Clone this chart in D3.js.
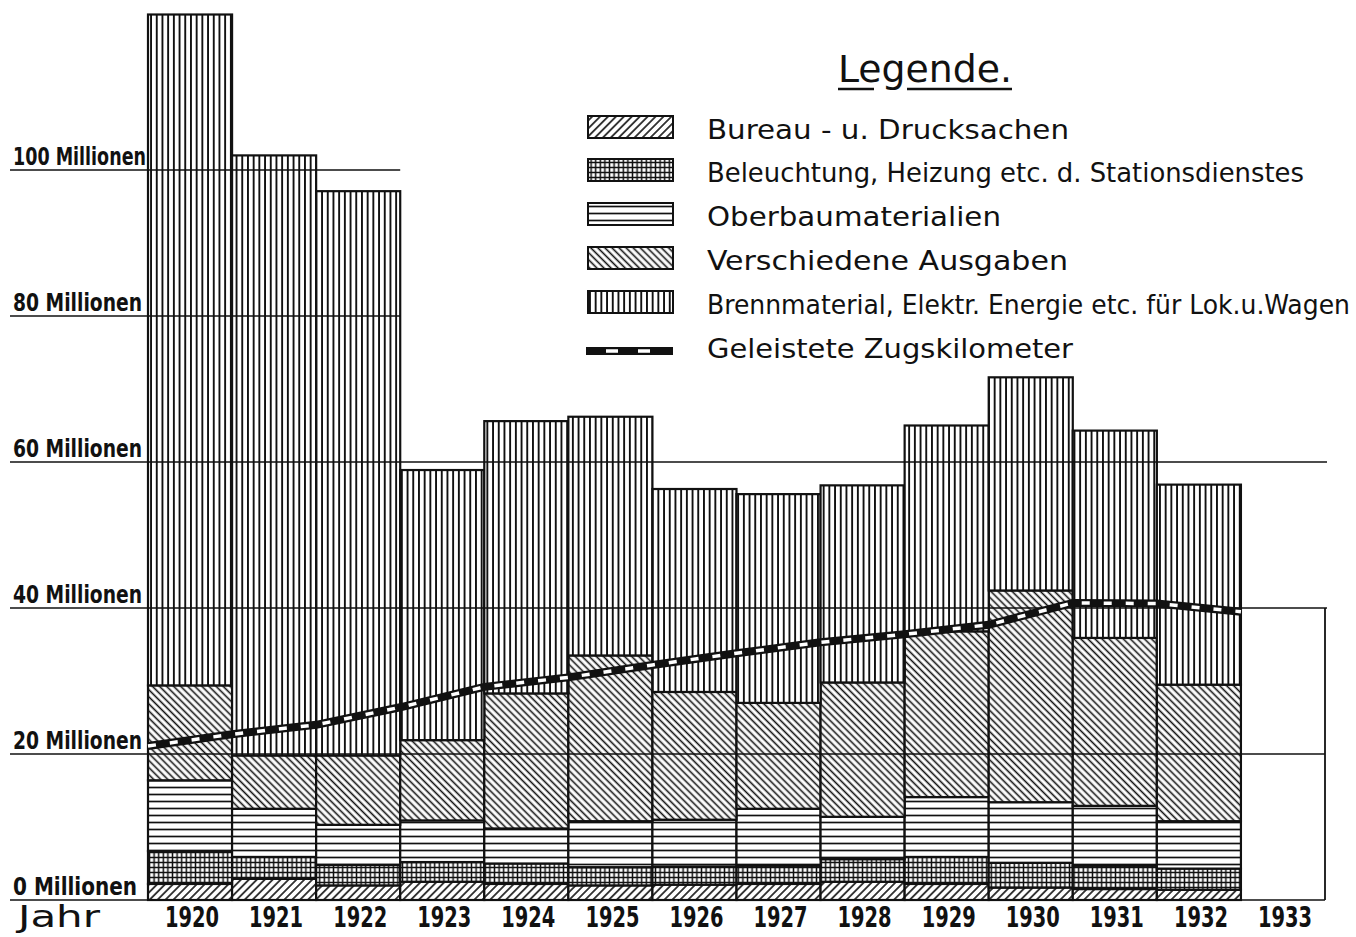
<!DOCTYPE html>
<html>
<head>
<meta charset="utf-8">
<script src="https://cdn.jsdelivr.net/npm/d3@7"></script>
<style>
	body { margin: 0; background: #fff; }
	text { fill: #111; }
</style>
</head>
<body>
<div id="graph"></div>
<script>
// years on the axis (1933 has no bar, only a label and the end of the line)
const years = ["1920", "1921", "1922", "1923", "1924", "1925", "1926", "1927", "1928", "1929", "1930", "1931", "1932", "1933"];
const barYears = years.slice(0, 13);

// millions, bottom to top of each bar
const bureau = [2.2, 2.9, 2.0, 2.5, 2.2, 2.0, 2.1, 2.2, 2.5, 2.2, 1.7, 1.5, 1.4];
const beleuchtung = [4.5, 3.0, 2.8, 2.7, 2.8, 2.5, 2.5, 2.5, 3.1, 3.7, 3.4, 3.2, 2.9];
const oberbau = [9.7, 6.6, 5.5, 5.7, 4.8, 6.3, 6.4, 7.8, 5.8, 8.2, 8.3, 8.2, 6.5];
const verschiedene = [13.0, 7.3, 9.5, 11.0, 18.5, 22.7, 17.5, 14.5, 18.4, 22.7, 29.0, 23.0, 18.7];
const brenn = [91.9, 82.2, 77.3, 37.0, 37.3, 32.7, 27.8, 28.6, 27.0, 28.2, 29.2, 28.4, 27.4];

// Zugskilometer, plotted at the start of each year 1920..1933
const zugkm = [21.1, 22.7, 24.0, 26.4, 29.2, 30.5, 32.2, 33.8, 35.3, 36.4, 37.7, 40.7, 40.6, 39.5];

const ticks = [0, 20, 40, 60, 80, 100];
const keys = ["bureau", "beleuchtung", "oberbau", "verschiedene", "brenn"];
const legendLabels = [
	"Bureau - u. Drucksachen",
	"Beleuchtung, Heizung etc. d. Stationsdienstes",
	"Oberbaumaterialien",
	"Verschiedene Ausgaben",
	"Brennmaterial, Elektr. Energie etc. für Lok.u.Wagen",
	"Geleistete Zugskilometer",
];

const width = 1356;
const height = 937;
const font = "'DejaVu Sans Condensed', 'Liberation Sans Narrow', 'DejaVu Sans', sans-serif";

const table = barYears.map((yr, i) => ({
	year: yr,
	bureau: bureau[i],
	beleuchtung: beleuchtung[i],
	oberbau: oberbau[i],
	verschiedene: verschiedene[i],
	brenn: brenn[i],
}));

const x = d3.scaleBand(years, [148, 1325]).padding(0);
const y = d3.scaleLinear([0, 100], [900, 170]);

const svg = d3
	.select("#graph")
	.append("svg")
	.attr("width", width)
	.attr("height", height)
	.attr("viewBox", [0, 0, width, height]);

// hatch patterns
const defs = svg.append("defs");
function linePattern(id, size, angle, sw) {
	const p = defs
		.append("pattern")
		.attr("id", id)
		.attr("patternUnits", "userSpaceOnUse")
		.attr("width", size)
		.attr("height", size)
		.attr("patternTransform", `rotate(${angle})`);
	p.append("rect").attr("width", size).attr("height", size).attr("fill", "#fff");
	p.append("line")
		.attr("x1", size / 2).attr("x2", size / 2)
		.attr("y1", 0).attr("y2", size)
		.attr("stroke", "#111")
		.attr("stroke-width", sw);
}
linePattern("bureau", 5.6, 45, 1.6);
linePattern("verschiedene", 5, -45, 1.6);
linePattern("oberbau", 7, 90, 1.7);
linePattern("brenn", 5.7, 0, 1.9);
{
	const p = defs
		.append("pattern")
		.attr("id", "beleuchtung")
		.attr("patternUnits", "userSpaceOnUse")
		.attr("width", 4.6)
		.attr("height", 5);
	p.append("rect").attr("width", 4.6).attr("height", 5).attr("fill", "#fff");
	p.append("line").attr("x1", 2.3).attr("x2", 2.3).attr("y1", 0).attr("y2", 5).attr("stroke", "#111").attr("stroke-width", 1.5);
	p.append("line").attr("x1", 0).attr("x2", 4.6).attr("y1", 2.5).attr("y2", 2.5).attr("stroke", "#111").attr("stroke-width", 1.5);
}

// stacked bars
const series = d3.stack().keys(keys)(table);
svg
	.append("g")
	.attr("stroke", "#111")
	.attr("stroke-width", 2.2)
	.selectAll("g")
	.data(series)
	.join("g")
	.attr("fill", (d) => `url(#${d.key})`)
	.selectAll("rect")
	.data((d) => d)
	.join("rect")
	.attr("x", (d) => x(d.data.year))
	.attr("y", (d) => y(d[1]))
	.attr("width", x.bandwidth())
	.attr("height", (d) => y(d[0]) - y(d[1]));

// grid lines drawn over the bars
const rightEnd = x("1933") + x.bandwidth();
svg
	.append("g")
	.attr("stroke", "#111")
	.attr("stroke-width", 1.7)
	.selectAll("line")
	.data(ticks)
	.join("line")
	.attr("x1", 10)
	.attr("x2", (d) => (d >= 80 ? x("1922") + x.bandwidth() : rightEnd + (d >= 40 ? 2 : 0)))
	.attr("y1", (d) => y(d))
	.attr("y2", (d) => y(d));

svg
	.append("line")
	.attr("x1", rightEnd)
	.attr("x2", rightEnd)
	.attr("y1", y(40))
	.attr("y2", y(0))
	.attr("stroke", "#111")
	.attr("stroke-width", 1.8);

// y labels
svg
	.append("g")
	.attr("font-family", font)
	.attr("font-weight", "bold")
	.attr("font-size", 24)
	.selectAll("text")
	.data(ticks)
	.join("text")
	.attr("x", 13)
	.attr("y", (d) => y(d) - 5)
	.attr("textLength", (d) => (d === 100 ? 133 : d === 0 ? 124 : 129))
	.attr("lengthAdjust", "spacingAndGlyphs")
	.text((d) => `${d} Millionen`);

// x labels
svg
	.append("text")
	.attr("x", 18)
	.attr("y", 927)
	.attr("font-family", font)
	.attr("font-size", 31)
	.attr("textLength", 82)
	.attr("lengthAdjust", "spacingAndGlyphs")
	.text("Jahr");

svg
	.append("g")
	.attr("font-family", font)
	.attr("font-weight", "bold")
	.attr("font-size", 28)
	.attr("text-anchor", "middle")
	.selectAll("text")
	.data(years)
	.join("text")
	.attr("x", (d) => x(d) + x.bandwidth() / 2 + 2)
	.attr("y", 927)
	.attr("textLength", 54)
	.attr("lengthAdjust", "spacingAndGlyphs")
	.text((d) => d);

// Zugskilometer line
const line = d3
	.line()
	.x((d, i) => x(years[i]))
	.y((d) => y(d));

svg
	.append("path")
	.attr("d", line(zugkm))
	.attr("fill", "none")
	.attr("stroke", "#111")
	.attr("stroke-width", 8);
svg
	.append("path")
	.attr("d", line(zugkm))
	.attr("fill", "none")
	.attr("stroke", "#fff")
	.attr("stroke-width", 3.5)
	.attr("stroke-dasharray", "8 14");

// legend
svg
	.append("text")
	.attr("x", 838)
	.attr("y", 82)
	.attr("font-family", font)
	.attr("font-size", 37)
	.attr("textLength", 174)
	.attr("lengthAdjust", "spacingAndGlyphs")
	.text("Legende.");
svg
	.append("g")
	.attr("stroke", "#111")
	.attr("stroke-width", 2.5)
	.selectAll("line")
	.data([[838, 874], [907, 1012]])
	.join("line")
	.attr("x1", (d) => d[0])
	.attr("x2", (d) => d[1])
	.attr("y1", 89)
	.attr("y2", 89);

const legendTop = [116, 159, 203, 247, 291];
const legendWidths = [362, 597, 294, 361, 643, 366];

const legend = svg.append("g");
legend
	.selectAll("rect")
	.data(keys)
	.join("rect")
	.attr("x", 588)
	.attr("y", (d, i) => legendTop[i])
	.attr("width", 85)
	.attr("height", 22)
	.attr("fill", (d) => `url(#${d})`)
	.attr("stroke", "#111")
	.attr("stroke-width", 2);

legend
	.append("line")
	.attr("x1", 586).attr("x2", 673)
	.attr("y1", 351).attr("y2", 351)
	.attr("stroke", "#111")
	.attr("stroke-width", 8);
legend
	.append("line")
	.attr("x1", 586).attr("x2", 673)
	.attr("y1", 351).attr("y2", 351)
	.attr("stroke", "#fff")
	.attr("stroke-width", 3.5)
	.attr("stroke-dasharray", "0 20 12 20 12 30");

legend
	.selectAll("text")
	.data(legendLabels)
	.join("text")
	.attr("x", 707)
	.attr("y", (d, i) => (i < 5 ? legendTop[i] + 23 : 358))
	.attr("font-family", font)
	.attr("font-size", 27)
	.attr("textLength", (d, i) => legendWidths[i])
	.attr("lengthAdjust", "spacingAndGlyphs")
	.text((d) => d);
</script>
</body>
</html>
